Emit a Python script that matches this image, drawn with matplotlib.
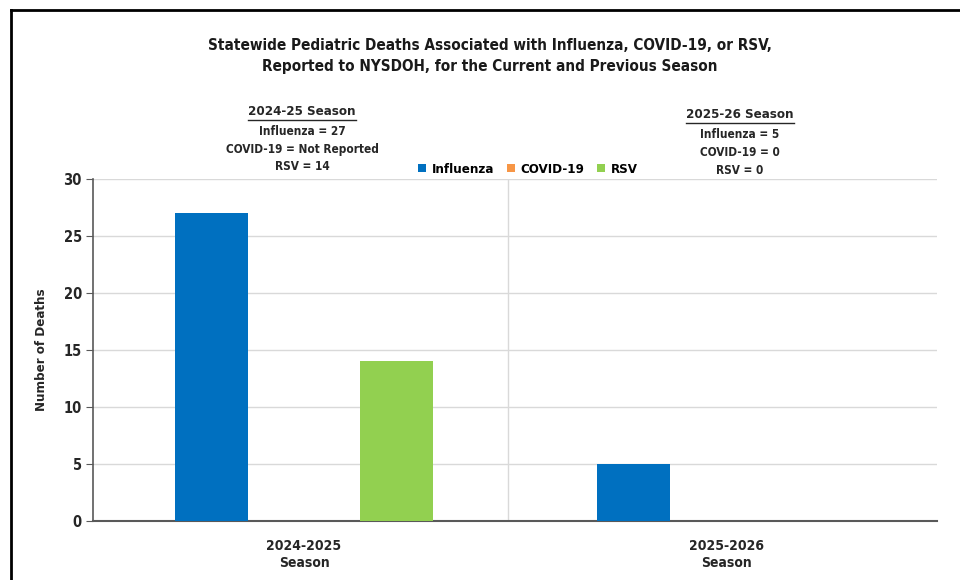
import numpy as np
import matplotlib.pyplot as plt
from matplotlib.lines import Line2D

seasons = ["2024-2025\nSeason", "2025-2026\nSeason"]
series = ["Influenza", "COVID-19", "RSV"]
influenza = [27, 5]
covid = [0, 0]
rsv = [14, 0]
colors = ["#0070C0", "#F79646", "#92D050"]
summary_24 = ["Influenza = 27", "COVID-19 = Not Reported", "RSV = 14"]
summary_25 = ["Influenza = 5", "COVID-19 = 0", "RSV = 0"]

plt.rcParams["font.family"] = ["DejaVu Sans"]
plt.rcParams["font.stretch"] = "condensed"
TXT = "#262626"
CF = dict(fontweight="bold", fontstretch="condensed", color=TXT)

fig = plt.figure(figsize=(9.6, 5.8), dpi=100)
ax = fig.add_axes([93 / 960, 1 - 521 / 580, (937 - 93) / 960, (521 - 179) / 580])

x = np.arange(len(seasons))
w = 0.173
off = 0.22
for i, (vals, c) in enumerate(zip([influenza, covid, rsv], colors)):
    ax.bar(x + (i - 1) * off, vals, width=w, color=c, label=series[i], zorder=3)

ax.set_xlim(-0.5, 1.5)
ax.set_ylim(0, 30)
ax.set_yticks(range(0, 31, 5))
ax.set_yticklabels([str(v) for v in range(0, 31, 5)], fontsize=10.5, **CF)
ax.grid(axis="y", color="#d9d9d9", lw=1, zorder=0)
# category separator (slightly left of centre, as in the original)
ax.axvline(0.484, color="#d9d9d9", lw=1, zorder=0)
ax.set_xticks(x)
ax.set_xticklabels(seasons, fontsize=10, linespacing=1.25, **CF)
ax.tick_params(axis="x", length=0, pad=13)
ax.tick_params(axis="y", length=5, color="#595959", direction="out", pad=3)
for s in ["top", "right"]:
    ax.spines[s].set_visible(False)
ax.spines["left"].set_color("#595959")
ax.spines["bottom"].set_color("#595959")
ax.spines["left"].set_linewidth(1.2)
ax.spines["bottom"].set_linewidth(1.5)
ax.set_ylabel("Number of Deaths", fontsize=9.5, labelpad=11, **CF)

fig.text(490 / 960, 1 - 45 / 580, "Statewide Pediatric Deaths Associated with Influenza, COVID-19, or RSV,",
         ha="center", va="center", fontsize=11, fontweight="bold", fontstretch="condensed", color="#1a1a1a")
fig.text(490 / 960, 1 - 66 / 580, "Reported to NYSDOH, for the Current and Previous Season",
         ha="center", va="center", fontsize=11, fontweight="bold", fontstretch="condensed", color="#1a1a1a")


def season_box(cx, y0, head, lines):
    t = fig.text(cx / 960, 1 - y0 / 580, head, ha="center", va="center", fontsize=9.5, **CF)
    fig.canvas.draw()
    bb = t.get_window_extent()
    fig.add_artist(Line2D([bb.x0 / 960, bb.x1 / 960], [1 - (y0 + 8) / 580] * 2, color=TXT, lw=1))
    for k, s in enumerate(lines):
        fig.text(cx / 960, 1 - (y0 + 19 + 18 * k) / 580, s, ha="center", va="center",
                 fontsize=8.5, **CF)


season_box(302, 112, "2024-25 Season", summary_24)
season_box(740, 115, "2025-26 Season", summary_25)

ax.legend(loc="center", bbox_to_anchor=(528 / 960, 1 - 169 / 580), bbox_transform=fig.transFigure,
          ncol=3, frameon=False, handlelength=0.6, handleheight=0.6, handletextpad=0.4,
          columnspacing=1.0, prop={"size": 9.5, "weight": "bold", "stretch": "condensed"})

# outer border
fig.add_artist(Line2D([11 / 960, 1], [1 - 10 / 580] * 2, color="black", lw=2))
fig.add_artist(Line2D([11 / 960] * 2, [0, 1 - 10 / 580], color="black", lw=2))

fig.savefig("out.png", dpi=100)
